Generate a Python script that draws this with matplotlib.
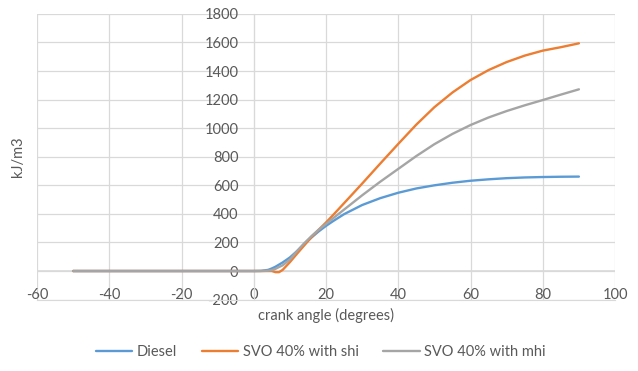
import matplotlib
matplotlib.use('Agg')
import matplotlib.pyplot as plt

plt.rcParams['font.family'] = ['Lato', 'DejaVu Sans']
plt.rcParams['axes.unicode_minus'] = False

# crank angle (degrees)
angle = [-50, -40, -30, -20, -10, 0, 2, 4, 5, 6, 7, 8, 10, 12, 14, 16, 18, 20,
         22, 25, 30, 35, 40, 45, 50, 55, 60, 65, 70, 75, 80, 85, 90]

# kJ/m3
diesel = [0, 0, 0, 0, 0, 0, 1, 8, 18, 30, 45, 60, 95, 140, 190, 235, 278, 316,
          350, 398, 462, 510, 548, 578, 600, 618, 632, 642, 650, 655, 658, 660, 661]
svo_shi = [0, 0, 0, 0, 0, 0, 0, 0, 0, -8, -8, 8, 62, 122, 180, 238, 290, 340,
           393, 475, 612, 752, 890, 1025, 1147, 1250, 1337, 1407, 1463, 1508, 1543, 1567, 1594]
svo_mhi = [0, 0, 0, 0, 0, 0, 0, 2, 6, 15, 28, 40, 80, 140, 195, 245, 290, 330,
           370, 430, 530, 625, 715, 805, 888, 960, 1022, 1075, 1120, 1160, 1197, 1235, 1272]

series = [
    ('Diesel', diesel, '#5B9BD5'),
    ('SVO 40% with shi', svo_shi, '#ED7D31'),
    ('SVO 40% with mhi', svo_mhi, '#A5A5A5'),
]

text_color = '#595959'
grid_color = '#D9D9D9'
fs = 10.5

fig = plt.figure(figsize=(6.38, 3.71), dpi=100)
ax = fig.add_axes([0.058, 0.1925, 0.906, 0.77])

for name, values, color in series:
    ax.plot(angle, values, color=color, lw=1.7, label=name, solid_capstyle='round', zorder=3)

ax.set_xlim(-60, 100)
ax.set_ylim(-200, 1800)
ax.set_xticks(range(-60, 101, 20))
ax.set_yticks(range(-200, 1801, 200))

ax.grid(True, color=grid_color, lw=0.9, zorder=0)
ax.axhline(0, color=grid_color, lw=1.2, zorder=1)

for side in ['top', 'right']:
    ax.spines[side].set_visible(False)
ax.spines['bottom'].set_color(grid_color)
ax.spines['left'].set_position(('data', 0))
ax.spines['left'].set_color(grid_color)

ax.tick_params(axis='both', length=0, labelsize=fs, labelcolor=text_color)
ax.tick_params(axis='y', pad=11)
ax.tick_params(axis='x', pad=-8.5)

ax.set_xlabel('crank angle (degrees)', fontsize=fs, color=text_color)
ax.xaxis.set_label_coords(0.5, -0.03)
ax.set_ylabel('kJ/m3', fontsize=fs, color=text_color)
ax.yaxis.set_label_coords(-0.021, 0.5)

fig.legend(loc='center', bbox_to_anchor=(0.503, 0.051), ncol=3, frameon=False,
           fontsize=fs, labelcolor=text_color, handlelength=2.5,
           handletextpad=0.3, columnspacing=1.7)

fig.savefig('out.png', dpi=100)
